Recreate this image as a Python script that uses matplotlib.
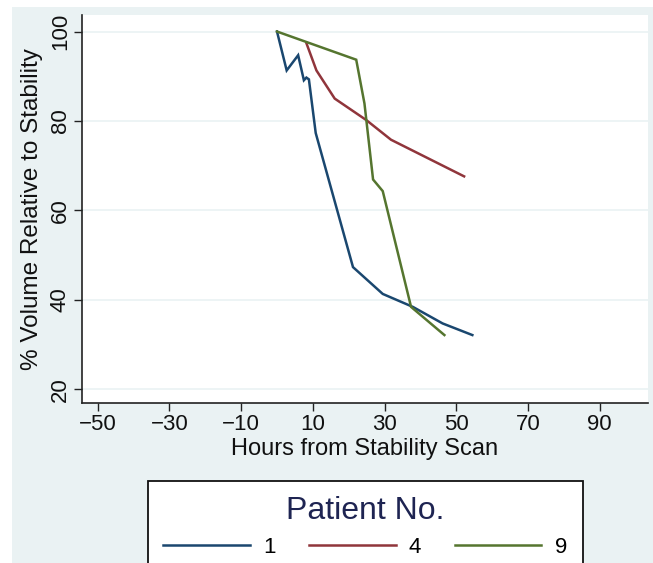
import matplotlib
matplotlib.use("Agg")
import matplotlib.pyplot as plt
from matplotlib.patches import Rectangle

plt.rcParams['font.family'] = ['Liberation Sans', 'DejaVu Sans']

# Data
p1_hours = [0, 2.7, 5.9, 7.5, 8.2, 8.9, 10.8, 21.2, 29.5, 37.9, 46.2, 54.5]
p1_vol = [100, 91.3, 94.7, 89.1, 89.7, 89.3, 77.3, 47.3, 41.3, 38.4, 34.7, 32.1]
p4_hours = [8.2, 11.0, 16.1, 24.9, 31.8, 52.2]
p4_vol = [97.4, 91.3, 85.0, 80.2, 75.8, 67.6]
p9_hours = [0, 22.1, 24.4, 26.8, 29.5, 37.4, 46.7]
p9_vol = [100, 93.7, 83.9, 66.9, 64.3, 38.4, 32.1]

patients = ['1', '4', '9']
colors = ['#1a476f', '#90353b', '#55752f']
xticks = [-50, -30, -10, 10, 30, 50, 70, 90]
yticks = [20, 40, 60, 80, 100]

W, H = 653, 563
fig = plt.figure(figsize=(W / 100, H / 100), dpi=100, facecolor='white')
# light blue graph region
fig.patches.append(Rectangle((12 / W, 0), 1 - 12 / W, 1 - 7 / H, transform=fig.transFigure,
                             fc='#eaf2f3', ec='none', zorder=-10))

ax = fig.add_axes([82 / W, 1 - 403 / H, (648 - 82) / W, (403 - 15) / H])
ax.set_facecolor('white')

for hx, vy, c, lab in zip([p1_hours, p4_hours, p9_hours], [p1_vol, p4_vol, p9_vol], colors, patients):
    ax.plot(hx, vy, color=c, lw=1.8, label=lab, solid_joinstyle='miter')

ax.set_xlim(-54.4, 103.5)
ax.set_ylim(16.9, 103.7)
ax.set_xticks(xticks)
ax.set_xticklabels([str(t).replace('-', '\u2212') for t in xticks])
ax.set_yticks(yticks)
ax.set_yticklabels([str(t) for t in yticks], rotation=90, va='center')
ax.tick_params(axis='both', labelsize=16, length=6, width=1, color='#222222', labelcolor='#111111', pad=2)
ax.yaxis.grid(True, color='#eaf2f3', lw=1.2)
ax.set_axisbelow(True)
for s in ['top', 'right']:
    ax.spines[s].set_visible(False)
for s in ['left', 'bottom']:
    ax.spines[s].set_linewidth(1.2)
    ax.spines[s].set_color('#222222')

ax.set_xlabel('Hours from Stability Scan', fontsize=17, labelpad=2, color='#111111')
ax.set_ylabel('% Volume Relative to Stability', fontsize=17.5, labelpad=5, color='#111111')

# legend box
fig.patches.append(Rectangle((148 / W, -0.05), (583 - 148) / W, (1 - 481 / H) + 0.05,
                             transform=fig.transFigure, fc='white', ec='#111111', lw=1.3, zorder=5))
handles, labels = ax.get_legend_handles_labels()
leg = fig.legend(handles, labels, loc='center', bbox_to_anchor=(365 / W, 1 - 527 / H), ncol=3,
                 frameon=False, fontsize=16, title='Patient No.', handlelength=3.9,
                 handletextpad=0.6, columnspacing=1.5, borderaxespad=0)
leg.get_title().set_fontsize(23)
leg.get_title().set_color('#1e2452')
leg.set_zorder(6)

fig.savefig('out.png', dpi=100, facecolor=fig.get_facecolor())
